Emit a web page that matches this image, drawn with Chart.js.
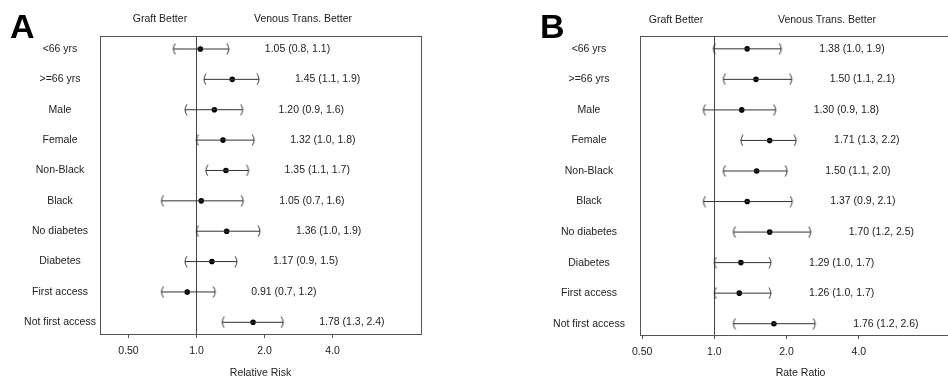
<!DOCTYPE html>
<html>
<head>
<meta charset="utf-8">
<script src="https://cdn.jsdelivr.net/npm/chart.js@4.4.1/dist/chart.umd.min.js"></script>
<style>
  body { margin: 0; width: 948px; height: 381px; overflow: hidden; background: #fff; position: relative;
         font-family: "Liberation Sans", Arial, sans-serif; color: #222; }
  canvas { position: absolute; top: 0; }
  #rrChart { left: 0; }
  #rateChart { left: 474px; }
  .hd { position: absolute; font-size: 10.5px; transform: translate(-50%, -50%); white-space: nowrap; }
  .panel { position: absolute; font-size: 34px; font-weight: bold; color: #000; line-height: 1; }
</style>
</head>
<body>
<canvas id="rrChart" width="474" height="381"></canvas>
<canvas id="rateChart" width="500" height="381"></canvas>
<div class="panel" style="left:10px;top:9px">A</div>
<div class="panel" style="left:540px;top:9px">B</div>
<div class="hd" style="left:160px;top:18px">Graft Better</div>
<div class="hd" style="left:303px;top:18px">Venous Trans. Better</div>
<div class="hd" style="left:676px;top:19px">Graft Better</div>
<div class="hd" style="left:827px;top:19px">Venous Trans. Better</div>

<script>
// rows, top to bottom
const rowLabels = ['<66 yrs', '>=66 yrs', 'Male', 'Female', 'Non-Black', 'Black',
  'No diabetes', 'Diabetes', 'First access', 'Not first access'];

const tickVals = [0.5, 1, 2, 4];
const tickText = ['0.50', '1.0', '2.0', '4.0'];

// A - relative risk
const rrEst  = [1.04, 1.44, 1.20, 1.31, 1.35, 1.05, 1.36, 1.17, 0.91, 1.78];
const rrLow  = [0.79, 1.08, 0.89, 1.00, 1.10, 0.70, 1.00, 0.89, 0.70, 1.30];
const rrHigh = [1.39, 1.89, 1.60, 1.80, 1.70, 1.61, 1.91, 1.51, 1.21, 2.42];
const rrNotes = ['1.05 (0.8, 1.1)', '1.45 (1.1, 1.9)', '1.20 (0.9, 1.6)', '1.32 (1.0, 1.8)',
  '1.35 (1.1, 1.7)', '1.05 (0.7, 1.6)', '1.36 (1.0, 1.9)', '1.17 (0.9, 1.5)',
  '0.91 (0.7, 1.2)', '1.78 (1.3, 2.4)'];

// B - rate ratio
const rateEst  = [1.37, 1.49, 1.30, 1.70, 1.50, 1.37, 1.70, 1.29, 1.27, 1.77];
const rateLow  = [0.99, 1.09, 0.90, 1.29, 1.09, 0.90, 1.20, 1.00, 1.00, 1.20];
const rateHigh = [1.90, 2.10, 1.80, 2.19, 2.01, 2.11, 2.52, 1.72, 1.72, 2.63];
const rateNotes = ['1.38 (1.0, 1.9)', '1.50 (1.1, 2.1)', '1.30 (0.9, 1.8)', '1.71 (1.3, 2.2)',
  '1.50 (1.1, 2.0)', '1.37 (0.9, 2.1)', '1.70 (1.2, 2.5)', '1.29 (1.0, 1.7)',
  '1.26 (1.0, 1.7)', '1.76 (1.2, 2.6)'];

const FONT = '"Liberation Sans", Arial, sans-serif';
Chart.defaults.font.family = FONT;
Chart.defaults.font.size = 10.5;
Chart.defaults.color = '#222';

// little "(" and ")" end caps
function makeCap(left) {
  const c = document.createElement('canvas');
  c.width = 8; c.height = 12;
  const g = c.getContext('2d');
  g.strokeStyle = '#333';
  g.lineWidth = 1;
  g.beginPath();
  if (left) { g.moveTo(6, 0.5); g.quadraticCurveTo(2, 6, 6, 11.5); }
  else { g.moveTo(2, 0.5); g.quadraticCurveTo(6, 6, 2, 11.5); }
  g.stroke();
  return c;
}
const leftCap = makeCap(true);
const rightCap = makeCap(false);

// box, row labels and the text estimates
const forestText = {
  id: 'forestText',
  afterDatasetsDraw(chart, args, opts) {
    const { ctx, chartArea: a, scales: { x, y } } = chart;
    ctx.save();
    ctx.strokeStyle = '#555';
    ctx.lineWidth = 1;
    ctx.strokeRect(Math.round(a.left) + 0.5, Math.round(a.top) + 0.5,
      Math.round(a.width), Math.round(a.height));
    ctx.font = '10.5px ' + FONT;
    ctx.fillStyle = '#222';
    ctx.textBaseline = 'middle';
    opts.labels.forEach((lab, i) => {
      const py = y.getPixelForValue(i + 1);
      ctx.textAlign = 'center';
      ctx.fillText(lab, a.left - opts.labelGap, py);
      ctx.textAlign = 'left';
      ctx.fillText(opts.notes[i], x.getPixelForValue(opts.high[i]) + opts.noteGap, py);
    });
    ctx.restore();
  }
};

function forestChart(id, est, low, high, notes, o) {
  const ci = low.flatMap((lo, i) => [
    { x: lo, y: i + 1 }, { x: high[i], y: i + 1 }, { x: high[i], y: null }
  ]);
  return new Chart(document.getElementById(id), {
    type: 'scatter',
    data: {
      datasets: [
        {
          data: ci,
          showLine: true,
          spanGaps: false,
          borderColor: '#333',
          borderWidth: 1,
          pointRadius: 4,
          pointStyle: c => (c.dataIndex % 3 === 0 ? leftCap : rightCap)
        },
        {
          data: est.map((v, i) => ({ x: v, y: i + 1 })),
          pointRadius: 2.8,
          backgroundColor: '#000',
          borderWidth: 0
        }
      ]
    },
    options: {
      responsive: false,
      animation: false,
      devicePixelRatio: 1,
      layout: { padding: { left: o.left, right: o.right, top: o.top, bottom: 0 } },
      plugins: {
        legend: { display: false },
        tooltip: { enabled: false },
        forestText: { labels: rowLabels, notes: notes, high: high, labelGap: o.labelGap, noteGap: o.noteGap }
      },
      scales: {
        x: {
          type: 'logarithmic',
          min: o.min,
          max: o.max,
          afterBuildTicks: s => { s.ticks = tickVals.map(v => ({ value: v })); },
          afterFit: s => { s.height = o.axisH; },
          ticks: {
            autoSkip: false,
            maxRotation: 0,
            padding: 7,
            color: '#222',
            callback: v => tickText[tickVals.indexOf(v)]
          },
          grid: {
            color: c => (c.tick && c.tick.value === 1 ? '#444' : 'rgba(0,0,0,0)'),
            tickColor: '#555',
            tickLength: 4
          },
          border: { display: false },
          title: { display: true, text: o.title, color: '#222', padding: { top: 0, bottom: 2 } }
        },
        y: {
          type: 'linear',
          reverse: true,
          min: o.yMin,
          max: o.yMax,
          display: false
        }
      }
    },
    plugins: [forestText]
  });
}

forestChart('rrChart', rrEst, rrLow, rrHigh, rrNotes, {
  left: 100, right: 53, top: 36, axisH: 47, min: 0.374, max: 9.86,
  yMin: 0.572, yMax: 10.385, labelGap: 40, noteGap: 36, title: 'Relative Risk'
});

forestChart('rateChart', rateEst, rateLow, rateHigh, rateNotes, {
  left: 166, right: 13, top: 36, axisH: 46, min: 0.49, max: 10.65,
  yMin: 0.58, yMax: 10.37, labelGap: 51, noteGap: 38, title: 'Rate Ratio'
});
</script>
</body>
</html>
